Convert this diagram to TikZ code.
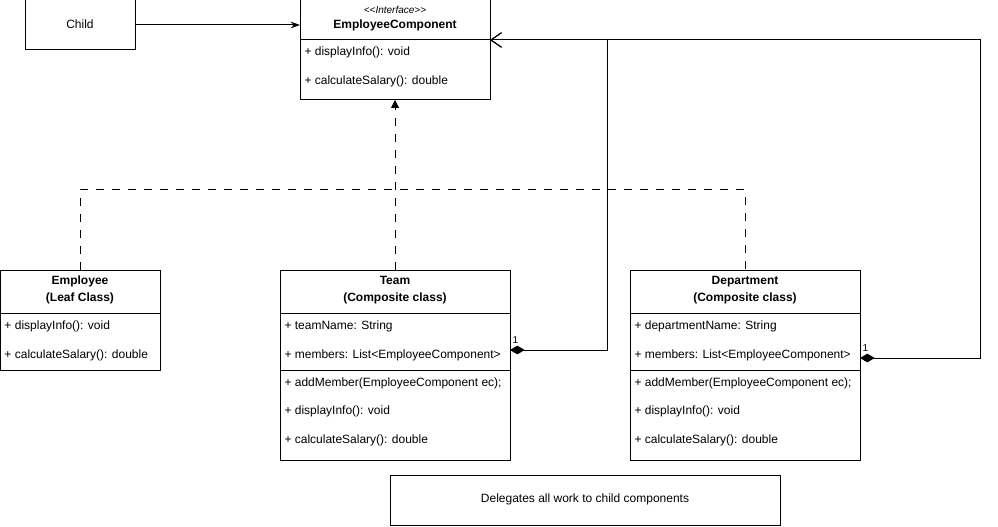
\documentclass[tikz,border=0pt]{standalone}
\usepackage{fontspec}
\setmainfont{Liberation Sans}
\usetikzlibrary{arrows.meta,calc}
\begin{document}
\begin{tikzpicture}[x=0.75pt,y=-0.75pt,line width=0.75pt,
  box/.style={draw, anchor=north west, inner sep=0pt, outer sep=0pt},
  member/.style={font=\fontsize{9}{11}\selectfont, inner sep=0pt, anchor=west, text height=6.6pt, text depth=1.9pt},
  title/.style={font=\fontsize{9}{11}\selectfont\bfseries, inner sep=0pt, text height=6.6pt, text depth=1.9pt},
  plain/.style={font=\fontsize{9}{11}\selectfont, inner sep=0pt, text height=6.6pt, text depth=1.9pt},
  stereo/.style={font=\fontsize{7.5}{9}\selectfont\itshape, inner sep=0pt},
  mult/.style={font=\fontsize{7.5}{9}\selectfont, inner sep=0pt, anchor=south west},
  realize/.style={dash pattern=on 6pt off 6pt, -{Triangle[length=6pt,width=6pt]}},
  compose/.style={{Diamond[length=11pt,width=6.5pt]}-{Straight Barb[length=8pt,width=11pt]}},
]
\useasboundingbox (0,0) rectangle (998,527);

% Child box
\node[box, minimum width=110*0.75pt, minimum height=50*0.75pt] (child) at (25,0) {};
\node[plain] (childtxt) at (80,25) {Child};

% Interface EmployeeComponent
\node[box, minimum width=190*0.75pt, minimum height=100*0.75pt] (ec) at (300,0) {};
\draw (300,40) -- (490,40);
\node[stereo] (ecst) at (395,10) {<{}<Interface>{}>};
\node[title] (ecname) at (395,25) {EmployeeComponent};
\node[member] (ec1) at (304,52) {+ displayInfo(): void};
\node[member] (ec2) at (304,81) {+ calculateSalary(): double};

% Employee (leaf)
\node[box, minimum width=160*0.75pt, minimum height=100*0.75pt] (emp) at (0,270) {};
\draw (0,313) -- (160,313);
\node[title] (empt1) at (80,281) {Employee};
\node[title] (empt2) at (80,298) {(Leaf Class)};
\node[member] (emp1) at (4,326) {+ displayInfo(): void};
\node[member] (emp2) at (4,355) {+ calculateSalary(): double};

% Team (composite)
\node[box, minimum width=230*0.75pt, minimum height=190*0.75pt] (team) at (280,270) {};
\draw (280,313) -- (510,313);
\draw (280,370) -- (510,370);
\node[title] (teamt1) at (395,281) {Team};
\node[title] (teamt2) at (395,298) {(Composite class)};
\node[member] (team1) at (284,326) {+ teamName: String};
\node[member] (team2) at (284,355) {+ members: List<EmployeeComponent>};
\node[member] (team3) at (284,383) {+ addMember(EmployeeComponent ec);};
\node[member] (team4) at (284,411) {+ displayInfo(): void};
\node[member] (team5) at (284,440) {+ calculateSalary(): double};

% Department (composite)
\node[box, minimum width=230*0.75pt, minimum height=190*0.75pt] (dep) at (630,270) {};
\draw (630,313) -- (860,313);
\draw (630,370) -- (860,370);
\node[title] (dept1) at (745,281) {Department};
\node[title] (dept2) at (745,298) {(Composite class)};
\node[member] (dep1) at (634,326) {+ departmentName: String};
\node[member] (dep2) at (634,355) {+ members: List<EmployeeComponent>};
\node[member] (dep3) at (634,383) {+ addMember(EmployeeComponent ec);};
\node[member] (dep4) at (634,411) {+ displayInfo(): void};
\node[member] (dep5) at (634,440) {+ calculateSalary(): double};

% Note
\node[box, minimum width=390*0.75pt, minimum height=50*0.75pt] (note) at (390,475) {};
\node[plain] (notetxt) at (585,499) {Delegates all work to child components};

% Connector anchor points
\coordinate (bus) at (0,190);
\coordinate (ecport) at (490,40);
\coordinate (teamport) at (510,350);
\coordinate (depport) at (860,358);

% Child association
\draw[-{Stealth[length=7pt,width=5pt]}] (child.east) -- (child.east -| ec.west);

% Realization of the interface
\draw[realize] (team.north) -- (ec.south);
\draw[dash pattern=on 6pt off 6pt] (emp.north) -- (emp.north |- bus) -- (dep.north |- bus) -- (dep.north);

% Compositions back to the interface
\draw[compose] (teamport) -- ++(97,0) |- (ecport);
\draw[compose] (depport) -- ++(120,0) |- (ecport);
\node[mult] (m1) at (512,344) {1};
\node[mult] (m2) at (862,352) {1};
\end{tikzpicture}
\end{document}
